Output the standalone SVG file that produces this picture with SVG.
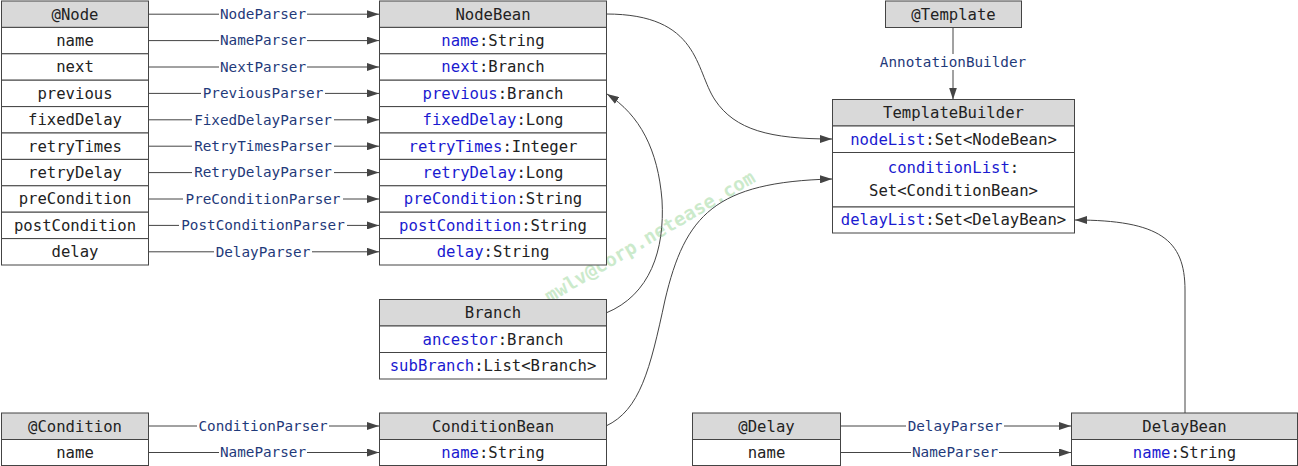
<svg xmlns="http://www.w3.org/2000/svg" width="1298" height="466" viewBox="0 0 1298 466">
<style>
.box{fill:#fff;stroke:#444;stroke-width:1}
.hd{fill:#d9d9d9;stroke:#444;stroke-width:1}
.t{font-family:"DejaVu Sans Mono","Liberation Mono",monospace;font-size:15.6px;fill:#222;text-anchor:middle}
.f{fill:#1a1ad0}
.lbl{font-family:"DejaVu Sans Mono","Liberation Mono",monospace;font-size:14.3px;fill:#1f3a7a;text-anchor:middle}
.lb{fill:#fff}
.c{fill:none;stroke:#444;stroke-width:1}
.wm{font-family:"DejaVu Sans Mono",monospace;font-size:19px;font-weight:bold;fill:#bfe6bf;text-anchor:middle;opacity:0.8}
</style>
<defs>
<marker id="ah" viewBox="0 0 12 8" refX="12" refY="4" markerWidth="12" markerHeight="8" markerUnits="userSpaceOnUse" orient="auto">
<path d="M0,0 L12,4 L0,8 z" fill="#444"/>
</marker>
</defs>

<text class="wm" x="650" y="243" transform="rotate(-30.5 650 237)">mwlv@corp.netease.com</text>

<g id="connectors">
<g id="node-arrows">
<line class="c" x1="148" y1="14.2" x2="379" y2="14.2" marker-end="url(#ah)"/>
<line class="c" x1="148" y1="40.6" x2="379" y2="40.6" marker-end="url(#ah)"/>
<line class="c" x1="148" y1="67" x2="379" y2="67" marker-end="url(#ah)"/>
<line class="c" x1="148" y1="93.4" x2="379" y2="93.4" marker-end="url(#ah)"/>
<line class="c" x1="148" y1="119.8" x2="379" y2="119.8" marker-end="url(#ah)"/>
<line class="c" x1="148" y1="146.2" x2="379" y2="146.2" marker-end="url(#ah)"/>
<line class="c" x1="148" y1="172.6" x2="379" y2="172.6" marker-end="url(#ah)"/>
<line class="c" x1="148" y1="199" x2="379" y2="199" marker-end="url(#ah)"/>
<line class="c" x1="148" y1="225.4" x2="379" y2="225.4" marker-end="url(#ah)"/>
<line class="c" x1="148" y1="251.8" x2="379" y2="251.8" marker-end="url(#ah)"/>
<rect class="lb" x="219" y="6" width="88" height="16"/><text class="lbl" x="263" y="19">NodeParser</text>
<rect class="lb" x="219" y="32" width="88" height="16"/><text class="lbl" x="263" y="45.4">NameParser</text>
<rect class="lb" x="219" y="59" width="88" height="16"/><text class="lbl" x="263" y="71.8">NextParser</text>
<rect class="lb" x="201" y="85" width="124" height="16"/><text class="lbl" x="263" y="98.2">PreviousParser</text>
<rect class="lb" x="192" y="111" width="142" height="16"/><text class="lbl" x="263" y="124.6">FixedDelayParser</text>
<rect class="lb" x="192" y="138" width="142" height="16"/><text class="lbl" x="263" y="151">RetryTimesParser</text>
<rect class="lb" x="192" y="164" width="142" height="16"/><text class="lbl" x="263" y="177.4">RetryDelayParser</text>
<rect class="lb" x="183" y="191" width="160" height="16"/><text class="lbl" x="263" y="203.8">PreConditionParser</text>
<rect class="lb" x="179" y="217" width="168" height="16"/><text class="lbl" x="263" y="230.2">PostConditionParser</text>
<rect class="lb" x="214" y="244" width="98" height="16"/><text class="lbl" x="263" y="256.6">DelayParser</text>
</g>
<g id="cond-arrows">
<line class="c" x1="148" y1="426" x2="379" y2="426" marker-end="url(#ah)"/>
<line class="c" x1="148" y1="452.5" x2="379" y2="452.5" marker-end="url(#ah)"/>
<rect class="lb" x="197" y="418" width="132" height="16"/><text class="lbl" x="263" y="430.8">ConditionParser</text>
<rect class="lb" x="219" y="444" width="88" height="16"/><text class="lbl" x="263" y="457.3">NameParser</text>
</g>
<g id="delay-arrows">
<line class="c" x1="840" y1="426" x2="1071" y2="426" marker-end="url(#ah)"/>
<line class="c" x1="840" y1="452.5" x2="1071" y2="452.5" marker-end="url(#ah)"/>
<rect class="lb" x="906" y="418" width="98" height="16"/><text class="lbl" x="955" y="430.8">DelayParser</text>
<rect class="lb" x="911" y="444" width="88" height="16"/><text class="lbl" x="955" y="457.3">NameParser</text>
</g>
<g id="template-arrow">
<line class="c" x1="953" y1="27.5" x2="953" y2="99.5" marker-end="url(#ah)"/>
<rect class="lb" x="877" y="54" width="152" height="16"/><text class="lbl" x="953" y="67">AnnotationBuilder</text>
</g>
<path class="c" d="M606,14 C700,14 695,70 715,100 C735,130 770,139 832,139" marker-end="url(#ah)"/>
<path class="c" d="M606,313 C650,295 665,250 662,200 C658,150 640,115 607,94" marker-end="url(#ah)"/>
<path class="c" d="M606,426 C640,410 650,370 665,300 C685,215 715,182 832,179" marker-end="url(#ah)"/>
<path class="c" d="M1185,413 L1185,290 C1185,240 1160,220 1075,220" marker-end="url(#ah)"/>
</g>

<g id="Node">
<rect class="hd" x="1.5" y="1" width="147" height="26.4"/>
<rect class="box" x="1.5" y="27.4" width="147" height="26.4"/>
<rect class="box" x="1.5" y="53.8" width="147" height="26.4"/>
<rect class="box" x="1.5" y="80.2" width="147" height="26.4"/>
<rect class="box" x="1.5" y="106.6" width="147" height="26.4"/>
<rect class="box" x="1.5" y="133" width="147" height="26.4"/>
<rect class="box" x="1.5" y="159.4" width="147" height="26.4"/>
<rect class="box" x="1.5" y="185.8" width="147" height="26.4"/>
<rect class="box" x="1.5" y="212.2" width="147" height="26.4"/>
<rect class="box" x="1.5" y="238.6" width="147" height="26.4"/>
<text class="t" x="75" y="19.6">@Node</text>
<text class="t" x="75" y="46">name</text>
<text class="t" x="75" y="72.4">next</text>
<text class="t" x="75" y="98.8">previous</text>
<text class="t" x="75" y="125.2">fixedDelay</text>
<text class="t" x="75" y="151.6">retryTimes</text>
<text class="t" x="75" y="178">retryDelay</text>
<text class="t" x="75" y="204.4">preCondition</text>
<text class="t" x="75" y="230.8">postCondition</text>
<text class="t" x="75" y="257.2">delay</text>
</g>

<g id="NodeBean">
<rect class="hd" x="379.5" y="1" width="227" height="26.4"/>
<rect class="box" x="379.5" y="27.4" width="227" height="26.4"/>
<rect class="box" x="379.5" y="53.8" width="227" height="26.4"/>
<rect class="box" x="379.5" y="80.2" width="227" height="26.4"/>
<rect class="box" x="379.5" y="106.6" width="227" height="26.4"/>
<rect class="box" x="379.5" y="133" width="227" height="26.4"/>
<rect class="box" x="379.5" y="159.4" width="227" height="26.4"/>
<rect class="box" x="379.5" y="185.8" width="227" height="26.4"/>
<rect class="box" x="379.5" y="212.2" width="227" height="26.4"/>
<rect class="box" x="379.5" y="238.6" width="227" height="26.4"/>
<text class="t" x="493" y="19.6">NodeBean</text>
<text class="t" x="493" y="46"><tspan class="f">name</tspan>:String</text>
<text class="t" x="493" y="72.4"><tspan class="f">next</tspan>:Branch</text>
<text class="t" x="493" y="98.8"><tspan class="f">previous</tspan>:Branch</text>
<text class="t" x="493" y="125.2"><tspan class="f">fixedDelay</tspan>:Long</text>
<text class="t" x="493" y="151.6"><tspan class="f">retryTimes</tspan>:Integer</text>
<text class="t" x="493" y="178"><tspan class="f">retryDelay</tspan>:Long</text>
<text class="t" x="493" y="204.4"><tspan class="f">preCondition</tspan>:String</text>
<text class="t" x="493" y="230.8"><tspan class="f">postCondition</tspan>:String</text>
<text class="t" x="493" y="257.2"><tspan class="f">delay</tspan>:String</text>
</g>

<g id="Template">
<rect class="hd" x="885.5" y="1" width="136" height="26.5"/>
<text class="t" x="953.5" y="19.6">@Template</text>
</g>

<g id="TemplateBuilder">
<rect class="hd" x="832.5" y="99.5" width="242" height="26.5"/>
<rect class="box" x="832.5" y="126" width="242" height="26.5"/>
<rect class="box" x="832.5" y="152.5" width="242" height="54.5"/>
<rect class="box" x="832.5" y="207" width="242" height="26"/>
<text class="t" x="953.5" y="118">TemplateBuilder</text>
<text class="t" x="953.5" y="144.5"><tspan class="f">nodeList</tspan>:Set&lt;NodeBean&gt;</text>
<text class="t" x="953.5" y="173"><tspan class="f">conditionList</tspan>:</text>
<text class="t" x="953.5" y="196">Set&lt;ConditionBean&gt;</text>
<text class="t" x="953.5" y="225"><tspan class="f">delayList</tspan>:Set&lt;DelayBean&gt;</text>
</g>

<g id="Branch">
<rect class="hd" x="379.5" y="299.5" width="227" height="26.5"/>
<rect class="box" x="379.5" y="326" width="227" height="26.5"/>
<rect class="box" x="379.5" y="352.5" width="227" height="26.5"/>
<text class="t" x="493" y="318">Branch</text>
<text class="t" x="493" y="344.5"><tspan class="f">ancestor</tspan>:Branch</text>
<text class="t" x="493" y="371"><tspan class="f">subBranch</tspan>:List&lt;Branch&gt;</text>
</g>

<g id="Condition">
<rect class="hd" x="1.5" y="413" width="147" height="26.5"/>
<rect class="box" x="1.5" y="439.5" width="147" height="26"/>
<text class="t" x="75" y="431.5">@Condition</text>
<text class="t" x="75" y="458">name</text>
</g>

<g id="ConditionBean">
<rect class="hd" x="379.5" y="413" width="227" height="26.5"/>
<rect class="box" x="379.5" y="439.5" width="227" height="26"/>
<text class="t" x="493" y="431.5">ConditionBean</text>
<text class="t" x="493" y="458"><tspan class="f">name</tspan>:String</text>
</g>

<g id="Delay">
<rect class="hd" x="692.5" y="413" width="148" height="26.5"/>
<rect class="box" x="692.5" y="439.5" width="148" height="26"/>
<text class="t" x="766.5" y="431.5">@Delay</text>
<text class="t" x="766.5" y="458">name</text>
</g>

<g id="DelayBean">
<rect class="hd" x="1071.5" y="413" width="226" height="26.5"/>
<rect class="box" x="1071.5" y="439.5" width="226" height="26"/>
<text class="t" x="1184.5" y="431.5">DelayBean</text>
<text class="t" x="1184.5" y="458"><tspan class="f">name</tspan>:String</text>
</g>
</svg>
